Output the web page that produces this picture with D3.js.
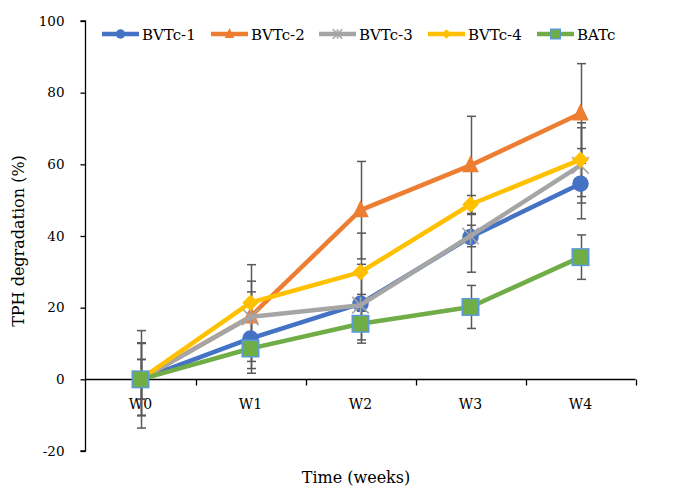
<!DOCTYPE html>
<html><head><meta charset="utf-8">
<script src="https://cdn.jsdelivr.net/npm/d3@7"></script>
<style>body{margin:0;background:#fff}svg{display:block}text{font-family:"DejaVu Serif",serif;fill:#000}</style>
</head><body>
<svg id="c" width="691" height="489"></svg>
<script>
const weeks = ["W0","W1","W2","W3","W4"];
const seriesNames = ["BVTc-1","BVTc-2","BVTc-3","BVTc-4","BATc"];
const bvtc1 = [0, 11.4, 21.1, 39.7, 54.6];
const bvtc2 = [0, 17.5, 47.2, 59.7, 74.2];
const bvtc3 = [0, 17.4, 20.7, 40.0, 59.7];
const bvtc4 = [0, 21.4, 29.9, 48.8, 61.3];
const batc  = [0, 8.6, 15.5, 20.2, 34.1];
const err1 = [10.2, 9.7, 11.0, 9.8, 9.8];
const err2 = [13.6, 14.5, 13.6, 13.7, 13.9];
const err3 = [5.6, 10.0, 3.0, 3.0, 10.5];
const err4 = [10.0, 3.0, 10.9, 2.5, 10.3];
const err5 = [5.5, 3.6, 4.5, 6.0, 6.2];
const yTicks = [-20, 0, 20, 40, 60, 80, 100];
const colors = ["#4472C4","#ED7D31","#A5A5A5","#FFC000","#70AD47"];
const markers = ["circle","triangle","star","diamond","square"];

const values = [bvtc1, bvtc2, bvtc3, bvtc4, batc];
const errs = [err1, err2, err3, err4, err5];
const series = seriesNames.map((n,i)=>({name:n, color:colors[i], marker:markers[i],
  pts: weeks.map((w,j)=>({w, v: values[i][j], e: errs[i][j]}))}));

const svg = d3.select("#c");
const x = d3.scaleBand().domain(weeks).range([85.5, 635.5]);
const y = d3.scaleLinear().domain([-20, 100]).range([451, 21]);
const cx = w => x(w) + x.bandwidth()/2;

// Y axis
const yAxis = svg.append("g").attr("transform","translate(85.5,0)")
  .call(d3.axisLeft(y).tickValues(yTicks).tickSize(5).tickPadding(16).tickFormat(d=>String(d)));
yAxis.select(".domain").attr("stroke","#000").attr("stroke-width",1.3).attr("d", `M-5,${y(100)}H0V${y(-20)}H-5`);
yAxis.selectAll(".tick line").attr("stroke","#000").attr("stroke-width",1.3);
yAxis.selectAll(".tick text").attr("font-size","13.5px").attr("font-family","DejaVu Serif").attr("fill","#000");

// X axis at y=0
const y0 = Math.round(y(0))+0.5;
const xAxis = svg.append("g").attr("transform",`translate(0,${y0})`);
xAxis.append("line").attr("x1",85.5).attr("x2",635.5).attr("y1",0).attr("y2",0).attr("stroke","#000").attr("stroke-width",1.3);
const bounds = weeks.map(w=>x(w)).concat([x(weeks[weeks.length-1])+x.bandwidth()]);
xAxis.selectAll("line.tk").data(bounds.slice(1)).enter().append("line").attr("class","tk")
  .attr("x1",d=>Math.round(d)+0.5).attr("x2",d=>Math.round(d)+0.5).attr("y1",0).attr("y2",6).attr("stroke","#000").attr("stroke-width",1.3);
xAxis.selectAll("text").data(weeks).enter().append("text")
  .attr("x",d=>cx(d)).attr("y",29).attr("text-anchor","middle").attr("font-size","14px").text(d=>d);

// Error bars
const eb = svg.append("g");
series.forEach(s=>{
  s.pts.forEach(p=>{
    const X = Math.round(cx(p.w))+0.5;
    const g = eb.append("g").attr("stroke","#595959").attr("stroke-width",1.5);
    g.append("line").attr("x1",X).attr("x2",X).attr("y1",y(p.v+p.e)).attr("y2",y(p.v-p.e));
    g.append("line").attr("x1",X-4.5).attr("x2",X+4.5).attr("y1",y(p.v+p.e)).attr("y2",y(p.v+p.e));
    g.append("line").attr("x1",X-4.5).attr("x2",X+4.5).attr("y1",y(p.v-p.e)).attr("y2",y(p.v-p.e));
  });
});

function drawMarker(g, type, color, X, Y, s){
  if(type==="circle") g.append("circle").attr("cx",X).attr("cy",Y).attr("r",s/2).attr("fill",color);
  else if(type==="triangle") g.append("path").attr("d",`M${X},${Y-s*0.62}L${X+s/2},${Y+s*0.42}L${X-s/2},${Y+s*0.42}Z`).attr("fill",color);
  else if(type==="diamond") g.append("path").attr("d",`M${X},${Y-s/2}L${X+s/2},${Y}L${X},${Y+s/2}L${X-s/2},${Y}Z`).attr("fill",color);
  else if(type==="square") g.append("rect").attr("x",X-s/2).attr("y",Y-s/2).attr("width",s).attr("height",s).attr("fill",color).attr("stroke","#5B9BD5").attr("stroke-width",1.5);
  else if(type==="star"){
    const h=s/2, gs=g.append("g").attr("stroke",color).attr("stroke-width",1.6);
    gs.append("line").attr("x1",X-h).attr("y1",Y-h).attr("x2",X+h).attr("y2",Y+h);
    gs.append("line").attr("x1",X-h).attr("y1",Y+h).attr("x2",X+h).attr("y2",Y-h);
    gs.append("line").attr("x1",X).attr("y1",Y-h).attr("x2",X).attr("y2",Y+h);
  }
}

const line = d3.line().x(p=>cx(p.w)).y(p=>y(p.v));
series.forEach(s=>{
  const g = svg.append("g");
  g.append("path").attr("d",line(s.pts)).attr("fill","none").attr("stroke",s.color).attr("stroke-width",4.5).attr("stroke-linejoin","round");
  s.pts.forEach(p=>drawMarker(g, s.marker, s.color, cx(p.w), y(p.v), 16.5));
});

// Legend
const lg = svg.append("g");
const legX = [102, 211, 319, 428, 537];
series.forEach((s,i)=>{
  const g = lg.append("g").attr("transform",`translate(${legX[i]},34)`);
  g.append("line").attr("x1",0).attr("x2",37).attr("y1",0).attr("y2",0).attr("stroke",s.color).attr("stroke-width",4.5);
  drawMarker(g, s.marker, s.color, 18.5, 0, 9.5);
  g.append("text").attr("x",40).attr("y",5.5).attr("font-size","15px").text(s.name);
});

// Axis titles
svg.append("text").attr("x",356).attr("y",483).attr("text-anchor","middle").attr("font-size","16px").text("Time (weeks)");
svg.append("text").attr("transform","translate(24,241) rotate(-90)").attr("text-anchor","middle").attr("font-size","16px").text("TPH degradation (%)");
</script>
</body></html>
